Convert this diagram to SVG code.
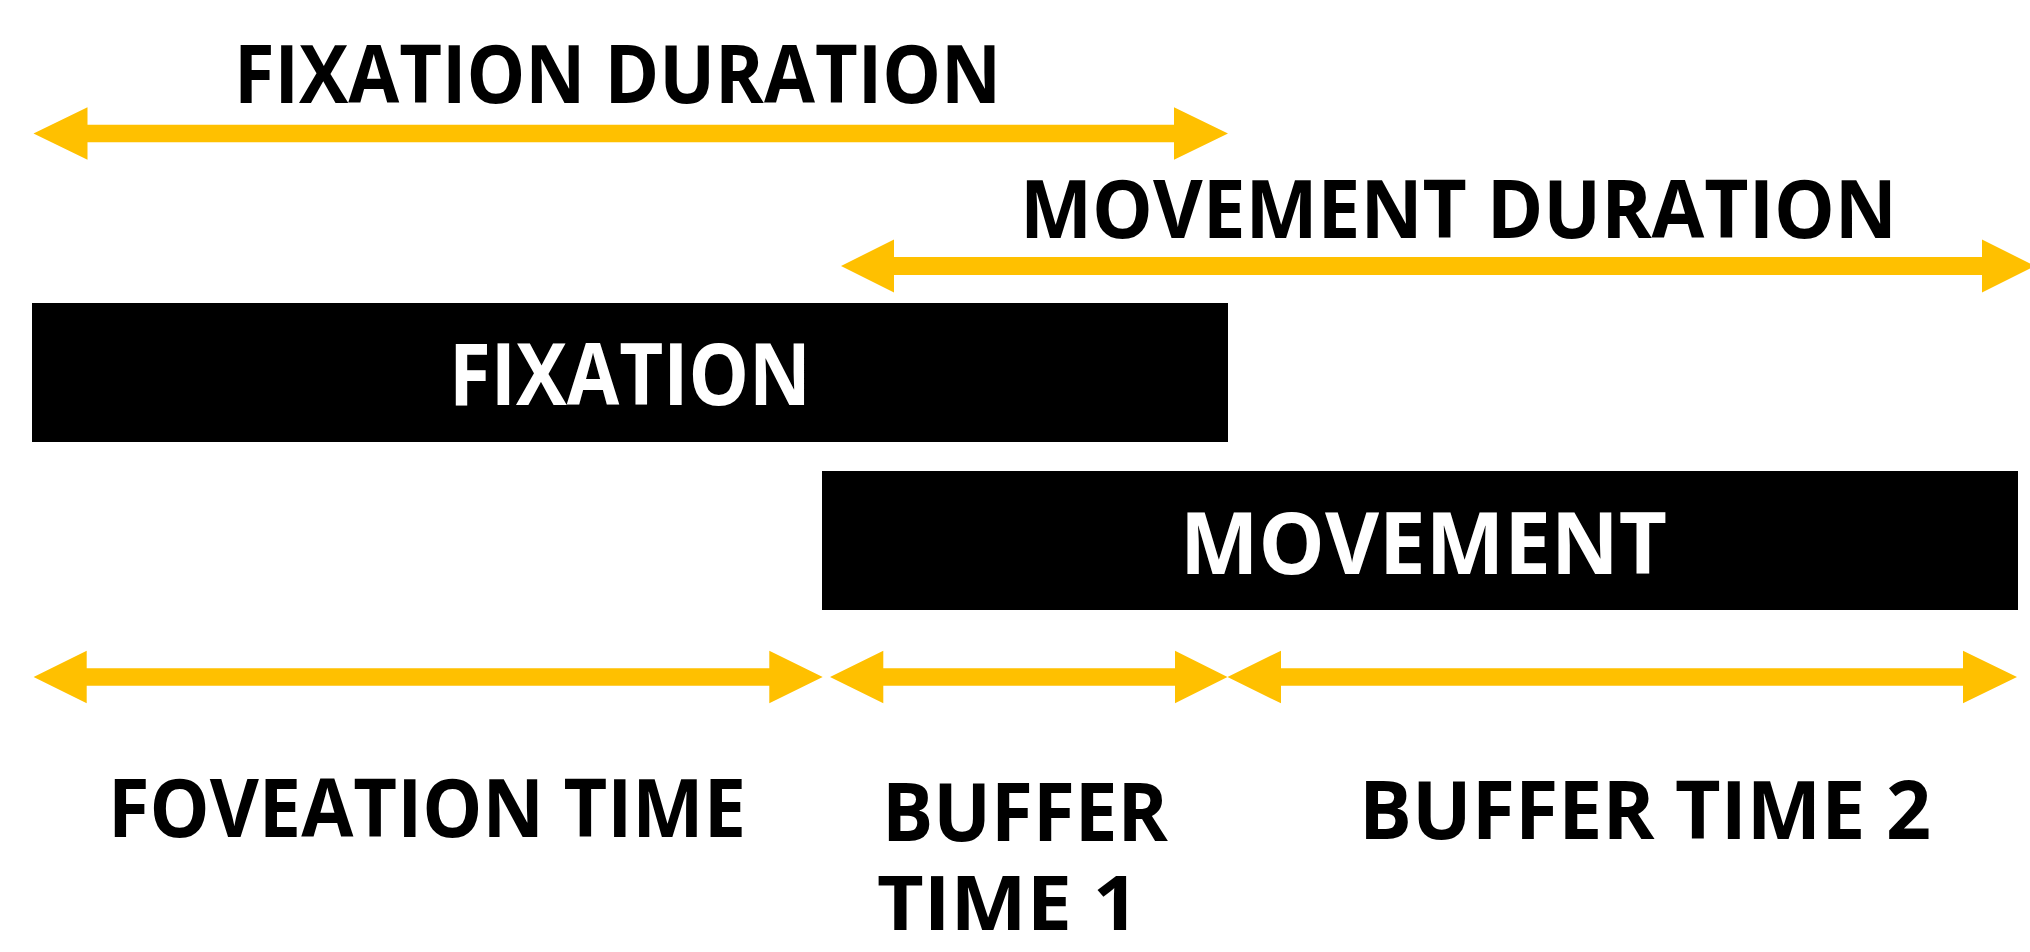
<svg xmlns="http://www.w3.org/2000/svg" width="2030" height="952" viewBox="0 0 2030 952">
<style>
.arr{fill:#FFC000;}
.box{fill:#000;}
.lbl{font-family:"Open Sans","Noto Sans","Liberation Sans",sans-serif;font-weight:700;fill:#000;}
.inl{font-family:"Open Sans","Noto Sans","Liberation Sans",sans-serif;font-weight:700;fill:#fff;}
</style>
<rect width="2030" height="952" fill="#fff"/>
<g id="connectors">
<polygon class="arr" points="33.5,133.5 87.5,107.2 87.5,124.8 1174,124.8 1174,107.2 1228,133.5 1174,159.8 1174,142.2 87.5,142.2 87.5,159.8"/>
<polygon class="arr" points="841,266 894,239.5 894,257 1982,257 1982,239.5 2035,266 1982,292.5 1982,275 894,275 894,292.5"/>
<polygon class="arr" points="33.6,677 86.7,650.7 86.7,668.3 769.3,668.3 769.3,650.7 822.7,677 769.3,703.3 769.3,685.7 86.7,685.7 86.7,703.3"/>
<polygon class="arr" points="830,677 883.3,650.7 883.3,668.3 1175,668.3 1175,650.7 1227.5,677 1175,703.3 1175,685.7 883.3,685.7 883.3,703.3"/>
<polygon class="arr" points="1227.5,677 1281,650.7 1281,668.3 1963,668.3 1963,650.7 2017,677 1963,703.3 1963,685.7 1281,685.7 1281,703.3"/>
</g>
<g id="fixation-duration">
<text class="lbl" x="234" y="103" font-size="80" textLength="767" lengthAdjust="spacingAndGlyphs">FIXATION DURATION</text>
</g>
<g id="movement-duration">
<text class="lbl" x="1020" y="238" font-size="80" textLength="877" lengthAdjust="spacingAndGlyphs">MOVEMENT DURATION</text>
</g>
<g id="fixation">
<rect class="box" x="32" y="303" width="1196" height="139"/>
<text class="inl" x="449" y="405" font-size="86" textLength="362" lengthAdjust="spacingAndGlyphs">FIXATION</text>
</g>
<g id="movement">
<rect class="box" x="822" y="471" width="1196" height="139"/>
<text class="inl" x="1180" y="574" font-size="86" textLength="487" lengthAdjust="spacingAndGlyphs">MOVEMENT</text>
</g>
<g id="foveation-time">
<text class="lbl" x="108" y="837" font-size="81" textLength="638" lengthAdjust="spacingAndGlyphs">FOVEATION TIME</text>
</g>
<g id="buffer-time-1">
<text class="lbl" x="882" y="841" font-size="81" textLength="286" lengthAdjust="spacingAndGlyphs">BUFFER</text>
<text class="lbl" x="877" y="930" font-size="76" textLength="262" lengthAdjust="spacingAndGlyphs">TIME 1</text>
</g>
<g id="buffer-time-2">
<text class="lbl" x="1359" y="839" font-size="81" textLength="572" lengthAdjust="spacingAndGlyphs">BUFFER TIME 2</text>
</g>
</svg>
